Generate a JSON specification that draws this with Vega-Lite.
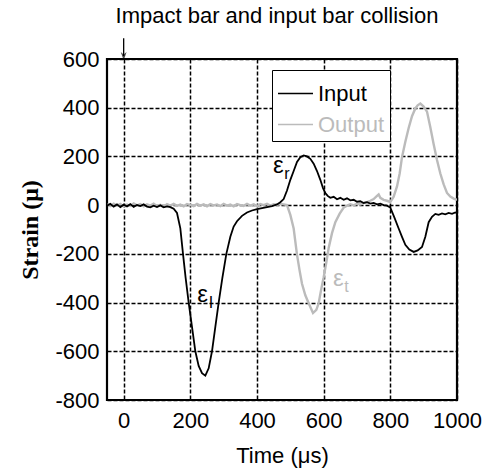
{
  "$schema": "https://vega.github.io/schema/vega-lite/v6.json",
  "width": 350,
  "height": 341,
  "autosize": {"type": "none"},
  "padding": {"left": 107, "top": 59, "right": 30, "bottom": 72},
  "background": "white",
  "config": {
    "view": {"stroke": "black", "strokeWidth": 2.2},
    "font": "Liberation Sans",
    "axis": {
      "labelFont": "Liberation Sans",
      "labelFontSize": 22,
      "labelColor": "black",
      "labelExpr": "datum.value + ''",
      "gridColor": "black",
      "gridDash": [4, 2],
      "gridWidth": 1.5,
      "gridOpacity": 1,
      "ticks": false,
      "tickSize": 0,
      "domain": false,
      "labelFlush": false,
      "labelOverlap": false,
      "labelBound": false
    }
  },
  "title": {
    "text": "Impact bar and input bar collision",
    "font": "Liberation Sans",
    "fontSize": 22,
    "fontWeight": "normal",
    "color": "black",
    "offset": 10,
    "dx": -5
  },
  "datasets": {
    "curves": [
      {"t": -50, "v": -2, "s": "Input"}, {"t": -40, "v": 5, "s": "Input"}, {"t": -30, "v": -6, "s": "Input"}, {"t": -20, "v": 3, "s": "Input"}, {"t": -10, "v": -8, "s": "Input"}, {"t": 0, "v": 2, "s": "Input"}, {"t": 10, "v": -5, "s": "Input"}, {"t": 20, "v": 4, "s": "Input"}, {"t": 30, "v": -7, "s": "Input"}, {"t": 40, "v": 1, "s": "Input"}, {"t": 50, "v": -4, "s": "Input"}, {"t": 60, "v": 3, "s": "Input"}, {"t": 70, "v": -6, "s": "Input"}, {"t": 80, "v": -9, "s": "Input"}, {"t": 90, "v": -2, "s": "Input"}, {"t": 100, "v": -8, "s": "Input"}, {"t": 110, "v": -1, "s": "Input"}, {"t": 120, "v": -9, "s": "Input"}, {"t": 130, "v": -5, "s": "Input"}, {"t": 140, "v": -8, "s": "Input"}, {"t": 150, "v": -15, "s": "Input"}, {"t": 160, "v": -32, "s": "Input"}, {"t": 170, "v": -95, "s": "Input"}, {"t": 178, "v": -200, "s": "Input"}, {"t": 186, "v": -300, "s": "Input"}, {"t": 195, "v": -400, "s": "Input"}, {"t": 205, "v": -500, "s": "Input"}, {"t": 215, "v": -600, "s": "Input"}, {"t": 225, "v": -660, "s": "Input"}, {"t": 235, "v": -690, "s": "Input"}, {"t": 245, "v": -700, "s": "Input"}, {"t": 255, "v": -670, "s": "Input"}, {"t": 265, "v": -600, "s": "Input"}, {"t": 275, "v": -500, "s": "Input"}, {"t": 285, "v": -400, "s": "Input"}, {"t": 296, "v": -300, "s": "Input"}, {"t": 308, "v": -200, "s": "Input"}, {"t": 320, "v": -130, "s": "Input"}, {"t": 330, "v": -88, "s": "Input"}, {"t": 340, "v": -66, "s": "Input"}, {"t": 355, "v": -44, "s": "Input"}, {"t": 370, "v": -30, "s": "Input"}, {"t": 385, "v": -22, "s": "Input"}, {"t": 400, "v": -16, "s": "Input"}, {"t": 415, "v": -12, "s": "Input"}, {"t": 430, "v": -8, "s": "Input"}, {"t": 445, "v": -4, "s": "Input"}, {"t": 460, "v": 3, "s": "Input"}, {"t": 470, "v": 12, "s": "Input"}, {"t": 480, "v": 25, "s": "Input"}, {"t": 490, "v": 60, "s": "Input"}, {"t": 500, "v": 104, "s": "Input"}, {"t": 510, "v": 140, "s": "Input"}, {"t": 520, "v": 177, "s": "Input"}, {"t": 530, "v": 197, "s": "Input"}, {"t": 540, "v": 204, "s": "Input"}, {"t": 550, "v": 200, "s": "Input"}, {"t": 560, "v": 190, "s": "Input"}, {"t": 570, "v": 170, "s": "Input"}, {"t": 580, "v": 140, "s": "Input"}, {"t": 590, "v": 104, "s": "Input"}, {"t": 598, "v": 70, "s": "Input"}, {"t": 605, "v": 50, "s": "Input"}, {"t": 612, "v": 38, "s": "Input"}, {"t": 620, "v": 30, "s": "Input"}, {"t": 630, "v": 34, "s": "Input"}, {"t": 640, "v": 24, "s": "Input"}, {"t": 650, "v": 30, "s": "Input"}, {"t": 660, "v": 22, "s": "Input"}, {"t": 670, "v": 28, "s": "Input"}, {"t": 680, "v": 20, "s": "Input"}, {"t": 690, "v": 22, "s": "Input"}, {"t": 700, "v": 14, "s": "Input"}, {"t": 710, "v": 16, "s": "Input"}, {"t": 720, "v": 9, "s": "Input"}, {"t": 730, "v": 12, "s": "Input"}, {"t": 740, "v": 6, "s": "Input"}, {"t": 750, "v": 9, "s": "Input"}, {"t": 760, "v": 3, "s": "Input"}, {"t": 770, "v": 6, "s": "Input"}, {"t": 780, "v": 0, "s": "Input"}, {"t": 790, "v": -2, "s": "Input"}, {"t": 800, "v": -10, "s": "Input"}, {"t": 812, "v": -50, "s": "Input"}, {"t": 825, "v": -96, "s": "Input"}, {"t": 835, "v": -130, "s": "Input"}, {"t": 845, "v": -163, "s": "Input"}, {"t": 857, "v": -182, "s": "Input"}, {"t": 870, "v": -192, "s": "Input"}, {"t": 882, "v": -186, "s": "Input"}, {"t": 895, "v": -172, "s": "Input"}, {"t": 905, "v": -130, "s": "Input"}, {"t": 915, "v": -70, "s": "Input"}, {"t": 925, "v": -48, "s": "Input"}, {"t": 935, "v": -36, "s": "Input"}, {"t": 945, "v": -40, "s": "Input"}, {"t": 955, "v": -34, "s": "Input"}, {"t": 965, "v": -38, "s": "Input"}, {"t": 975, "v": -32, "s": "Input"}, {"t": 985, "v": -36, "s": "Input"}, {"t": 995, "v": -30, "s": "Input"}, {"t": 1000, "v": -33, "s": "Input"},
      {"t": -50, "v": 3, "s": "Output"}, {"t": -40, "v": -4, "s": "Output"}, {"t": -30, "v": 6, "s": "Output"}, {"t": -20, "v": -2, "s": "Output"}, {"t": -10, "v": 5, "s": "Output"}, {"t": 0, "v": -6, "s": "Output"}, {"t": 10, "v": 2, "s": "Output"}, {"t": 20, "v": -3, "s": "Output"}, {"t": 30, "v": 7, "s": "Output"}, {"t": 40, "v": -1, "s": "Output"}, {"t": 50, "v": 4, "s": "Output"}, {"t": 60, "v": -5, "s": "Output"}, {"t": 70, "v": 3, "s": "Output"}, {"t": 80, "v": -2, "s": "Output"}, {"t": 90, "v": 6, "s": "Output"}, {"t": 100, "v": -4, "s": "Output"}, {"t": 110, "v": 1, "s": "Output"}, {"t": 120, "v": -6, "s": "Output"}, {"t": 130, "v": 4, "s": "Output"}, {"t": 140, "v": -2, "s": "Output"}, {"t": 150, "v": 5, "s": "Output"}, {"t": 160, "v": -3, "s": "Output"}, {"t": 170, "v": 2, "s": "Output"}, {"t": 180, "v": -5, "s": "Output"}, {"t": 190, "v": 4, "s": "Output"}, {"t": 200, "v": 0, "s": "Output"}, {"t": 210, "v": -4, "s": "Output"}, {"t": 220, "v": 5, "s": "Output"}, {"t": 230, "v": -2, "s": "Output"}, {"t": 240, "v": 3, "s": "Output"}, {"t": 250, "v": -5, "s": "Output"}, {"t": 260, "v": 4, "s": "Output"}, {"t": 270, "v": -1, "s": "Output"}, {"t": 280, "v": 3, "s": "Output"}, {"t": 290, "v": -4, "s": "Output"}, {"t": 300, "v": 5, "s": "Output"}, {"t": 310, "v": -2, "s": "Output"}, {"t": 320, "v": 2, "s": "Output"}, {"t": 330, "v": -5, "s": "Output"}, {"t": 340, "v": 4, "s": "Output"}, {"t": 350, "v": 0, "s": "Output"}, {"t": 360, "v": -3, "s": "Output"}, {"t": 370, "v": 5, "s": "Output"}, {"t": 380, "v": -2, "s": "Output"}, {"t": 390, "v": 3, "s": "Output"}, {"t": 400, "v": -4, "s": "Output"}, {"t": 410, "v": 4, "s": "Output"}, {"t": 420, "v": 0, "s": "Output"}, {"t": 430, "v": 5, "s": "Output"}, {"t": 440, "v": -2, "s": "Output"}, {"t": 450, "v": 4, "s": "Output"}, {"t": 460, "v": 1, "s": "Output"}, {"t": 470, "v": 5, "s": "Output"}, {"t": 480, "v": 3, "s": "Output"}, {"t": 490, "v": 0, "s": "Output"}, {"t": 500, "v": -40, "s": "Output"}, {"t": 510, "v": -96, "s": "Output"}, {"t": 520, "v": -203, "s": "Output"}, {"t": 528, "v": -270, "s": "Output"}, {"t": 535, "v": -323, "s": "Output"}, {"t": 545, "v": -370, "s": "Output"}, {"t": 555, "v": -403, "s": "Output"}, {"t": 568, "v": -443, "s": "Output"}, {"t": 578, "v": -430, "s": "Output"}, {"t": 585, "v": -403, "s": "Output"}, {"t": 592, "v": -350, "s": "Output"}, {"t": 600, "v": -296, "s": "Output"}, {"t": 608, "v": -235, "s": "Output"}, {"t": 615, "v": -176, "s": "Output"}, {"t": 625, "v": -115, "s": "Output"}, {"t": 635, "v": -70, "s": "Output"}, {"t": 648, "v": -35, "s": "Output"}, {"t": 660, "v": -10, "s": "Output"}, {"t": 670, "v": -2, "s": "Output"}, {"t": 680, "v": 4, "s": "Output"}, {"t": 690, "v": -1, "s": "Output"}, {"t": 700, "v": 6, "s": "Output"}, {"t": 710, "v": 3, "s": "Output"}, {"t": 720, "v": 8, "s": "Output"}, {"t": 730, "v": 12, "s": "Output"}, {"t": 740, "v": 18, "s": "Output"}, {"t": 750, "v": 25, "s": "Output"}, {"t": 760, "v": 38, "s": "Output"}, {"t": 765, "v": 44, "s": "Output"}, {"t": 770, "v": 30, "s": "Output"}, {"t": 780, "v": 22, "s": "Output"}, {"t": 790, "v": 18, "s": "Output"}, {"t": 800, "v": 13, "s": "Output"}, {"t": 810, "v": 35, "s": "Output"}, {"t": 820, "v": 77, "s": "Output"}, {"t": 828, "v": 130, "s": "Output"}, {"t": 835, "v": 197, "s": "Output"}, {"t": 845, "v": 260, "s": "Output"}, {"t": 855, "v": 317, "s": "Output"}, {"t": 865, "v": 365, "s": "Output"}, {"t": 875, "v": 397, "s": "Output"}, {"t": 882, "v": 410, "s": "Output"}, {"t": 890, "v": 417, "s": "Output"}, {"t": 900, "v": 405, "s": "Output"}, {"t": 910, "v": 384, "s": "Output"}, {"t": 920, "v": 320, "s": "Output"}, {"t": 930, "v": 250, "s": "Output"}, {"t": 940, "v": 185, "s": "Output"}, {"t": 950, "v": 130, "s": "Output"}, {"t": 960, "v": 85, "s": "Output"}, {"t": 970, "v": 50, "s": "Output"}, {"t": 980, "v": 35, "s": "Output"}, {"t": 990, "v": 27, "s": "Output"}, {"t": 1000, "v": 22, "s": "Output"}
    ],
    "notes": [
      {"t": 237, "v": -369, "label": "ε", "sub": "I", "s": "Input"},
      {"t": 464, "v": 161, "label": "ε", "sub": "r", "s": "Input"},
      {"t": 644, "v": -303, "label": "ε", "sub": "t", "s": "Output"}
    ],
    "arrow": [
      {"t": 0, "v": 685, "v2": 612}
    ]
  },
  "layer": [
    {
      "data": {"name": "curves"},
      "transform": [{"filter": "datum.s == 'Output'"}],
      "mark": {"type": "line", "strokeWidth": 2.4, "clip": true},
      "encoding": {
        "x": {"field": "t", "type": "quantitative", "scale": {"domain": [-50, 1000], "nice": false, "zero": false},
          "axis": {"values": [0, 200, 400, 600, 800, 1000], "title": "Time (μs)", "titleFont": "Liberation Sans", "titleFontSize": 22, "titleFontWeight": "normal", "titleColor": "black", "labelPadding": 10, "titlePadding": 14}},
        "y": {"field": "v", "type": "quantitative", "scale": {"domain": [-800, 600], "nice": false},
          "axis": {"values": [-800, -600, -400, -200, 0, 200, 400, 600], "title": "Strain (μ)", "titleFont": "Liberation Serif", "titleFontSize": 24, "titleFontWeight": "bold", "titleColor": "black", "labelPadding": 8, "titlePadding": 12}},
        "color": {"field": "s", "type": "nominal", "scale": {"domain": ["Input", "Output"], "range": ["black", "#bbbbbb"]},
          "legend": {"title": null, "orient": "none", "legendX": 165, "legendY": 11, "symbolType": "stroke", "symbolSize": 1225, "symbolStrokeWidth": 1.5, "labelFont": "Liberation Sans", "labelFontSize": 22, "labelColor": {"expr": "datum.label == 'Output' ? '#bbbbbb' : 'black'"}, "strokeColor": "black", "fillColor": "white", "padding": 5, "rowPadding": 1, "labelOffset": 4}}
      }
    },
    {
      "data": {"name": "curves"},
      "transform": [{"filter": "datum.s == 'Input'"}],
      "mark": {"type": "line", "strokeWidth": 1.8, "clip": true},
      "encoding": {
        "x": {"field": "t", "type": "quantitative"},
        "y": {"field": "v", "type": "quantitative"},
        "color": {"field": "s", "type": "nominal"}
      }
    },
    {
      "data": {"name": "notes"},
      "mark": {"type": "text", "font": "Liberation Sans", "fontSize": 24, "align": "center", "baseline": "middle"},
      "encoding": {
        "x": {"field": "t", "type": "quantitative"},
        "y": {"field": "v", "type": "quantitative"},
        "text": {"field": "label"},
        "color": {"condition": {"test": "datum.s == 'Output'", "value": "#bbbbbb"}, "value": "black"}
      }
    },
    {
      "data": {"name": "notes"},
      "mark": {"type": "text", "font": "Liberation Sans", "fontSize": 16, "align": "left", "baseline": "middle", "dx": 6, "dy": 8},
      "encoding": {
        "x": {"field": "t", "type": "quantitative"},
        "y": {"field": "v", "type": "quantitative"},
        "text": {"field": "sub"},
        "color": {"condition": {"test": "datum.s == 'Output'", "value": "#bbbbbb"}, "value": "black"}
      }
    },
    {
      "data": {"name": "arrow"},
      "mark": {"type": "rule", "color": "black", "strokeWidth": 1.3},
      "encoding": {
        "x": {"field": "t", "type": "quantitative"},
        "y": {"field": "v", "type": "quantitative"},
        "y2": {"field": "v2"}
      }
    },
    {
      "data": {"name": "arrow"},
      "mark": {"type": "point", "shape": "M -0.7 -1 L 0 1 L 0.7 -1 L 0 -0.4 Z", "filled": true, "color": "black", "size": 70},
      "encoding": {
        "x": {"field": "t", "type": "quantitative"},
        "y": {"field": "v2", "type": "quantitative"}
      }
    }
  ]
}
